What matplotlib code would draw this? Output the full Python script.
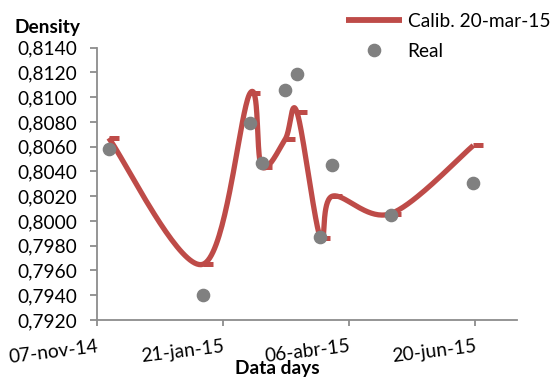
import datetime as dt
import numpy as np
import matplotlib
matplotlib.use("Agg")
import matplotlib.pyplot as plt
import matplotlib.dates as mdates
from matplotlib.path import Path
from matplotlib.ticker import FuncFormatter, MultipleLocator

# data
dates = ["2014-11-14", "2015-01-09", "2015-02-06", "2015-02-13", "2015-02-27",
         "2015-03-06", "2015-03-20", "2015-03-27", "2015-05-01", "2015-06-19"]
real = [0.8058, 0.7940, 0.8079, 0.8047, 0.8106, 0.8119, 0.7987, 0.8045, 0.8005, 0.8031]
calib = [0.8067, 0.7965, 0.8103, 0.8044, 0.8066, 0.8088, 0.7986, 0.8020, 0.8006, 0.8061]
x_ticks = ["2014-11-07", "2015-01-21", "2015-04-06", "2015-06-20"]
x_end = "2015-07-15"

RED = "#BE4B48"
GREY = "#808080"
AXIS = "#8C8C8C"

plt.rcParams["font.family"] = ["Lato", "DejaVu Sans"]
plt.rcParams["font.size"] = 13.8


def to_num(s):
    return mdates.date2num(dt.datetime.strptime(s, "%Y-%m-%d"))


def smooth(ax, xs, ys, n=40):
    # excel style smoothed line: cubic bezier, tension 1/6, in display space
    pts = ax.transData.transform(np.column_stack([xs, ys]))
    pts = np.vstack([pts[0], pts, pts[-1]])
    out = []
    t = np.linspace(0, 1, n)[:, None]
    for i in range(1, len(pts) - 2):
        p0, p1, p2, p3 = pts[i - 1], pts[i], pts[i + 1], pts[i + 2]
        c1 = p1 + (p2 - p0) / 6.0
        c2 = p2 - (p3 - p1) / 6.0
        seg = ((1 - t) ** 3) * p1 + 3 * ((1 - t) ** 2) * t * c1 + 3 * (1 - t) * t ** 2 * c2 + t ** 3 * p2
        out.append(seg)
    out = np.vstack(out)
    back = ax.transData.inverted().transform(out)
    return back[:, 0], back[:, 1]


x = np.array([to_num(d) for d in dates])

fig = plt.figure(figsize=(5.54, 3.77), dpi=100)
ax = fig.add_axes([97 / 554, 1 - 320 / 377, 420 / 554, (320 - 47.7) / 377])

ax.set_xlim(to_num(x_ticks[0]), to_num(x_end))
ax.set_ylim(0.7920, 0.8140)

sx, sy = smooth(ax, x, calib)
ax.plot(sx, sy, color=RED, lw=3.8, solid_capstyle="butt", solid_joinstyle="round",
        label="Calib. 20-mar-15", zorder=2)
stub = Path([(0, 0), (1, 0)])
ax.plot(x, calib, ls="none", marker=stub, ms=15, mew=3.6, mec=RED, zorder=2)
ax.plot(x, real, ls="none", marker="o", ms=8.8, color=GREY, label="Real", zorder=3)

ax.yaxis.set_major_locator(MultipleLocator(0.002))
ax.yaxis.set_major_formatter(FuncFormatter(lambda v, p: f"{v:.4f}".replace(".", ",")))
ax.set_xticks([to_num(d) for d in x_ticks])
ax.set_xticklabels(["07-nov-14", "21-jan-15", "06-abr-15", "20-jun-15"],
                   rotation=7, ha="right", va="top", rotation_mode="anchor")

for s in ["top", "right"]:
    ax.spines[s].set_visible(False)
for s in ["left", "bottom"]:
    ax.spines[s].set_color(AXIS)
    ax.spines[s].set_linewidth(1.3)
ax.tick_params(axis="y", length=5, width=1.3, color=AXIS, pad=9.5)
ax.tick_params(axis="x", length=4, width=1.3, color=AXIS, pad=9)

fig.text(15 / 554, 1 - 33 / 377, "Density", ha="left", va="baseline", weight="bold")
fig.text(277 / 554, 1 - 374 / 377, "Data days", ha="center", va="baseline", weight="bold")

leg = ax.legend(loc="upper right", bbox_to_anchor=(1.0, 0.977), bbox_transform=fig.transFigure,
                frameon=False, handlelength=2.9, handletextpad=0.3, labelspacing=0.68,
                borderaxespad=0.0, borderpad=0.2)
leg.get_lines()[0].set_linewidth(4.2)

fig.savefig("out.png", dpi=100)
